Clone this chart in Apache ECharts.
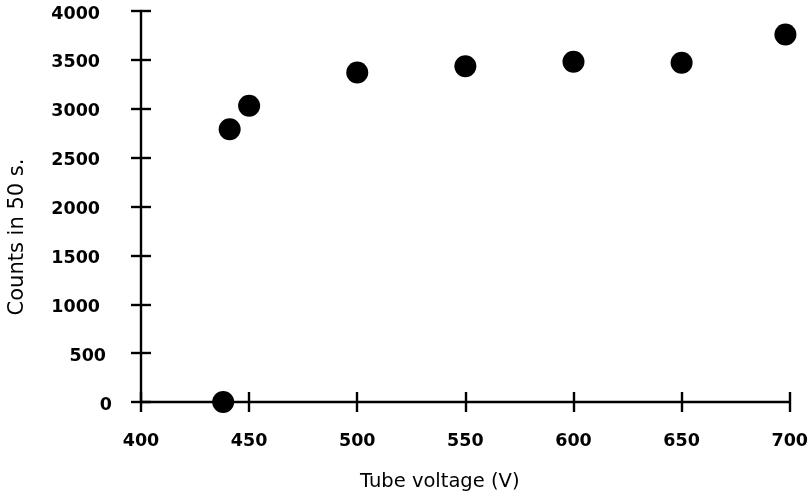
<!DOCTYPE html>
<html>
<head>
<meta charset="utf-8">
<script src="https://cdn.jsdelivr.net/npm/echarts@6/dist/echarts.min.js"></script>
<style>html,body{margin:0;padding:0;background:#fff}#c{width:811px;height:499px}</style>
</head>
<body>
<div id="c"></div>
<script>
var voltage = [438, 441, 450, 500, 550, 600, 650, 698];
var counts = [0, 2790, 3030, 3370, 3435, 3480, 3470, 3760];
var xTitle = 'Tube voltage (V)';
var yTitle = 'Counts in 50 s.';

var chart = echarts.init(document.getElementById('c'));
var pts = voltage.map(function (v, i) { return [v, counts[i]]; });
var lineStyle = { color: '#000', width: 2.4 };
var font = 'DejaVu Sans';

chart.setOption({
  animation: false,
  backgroundColor: '#fff',
  grid: { left: 141, right: 17, top: 11, bottom: 97 },
  xAxis: [{
    type: 'value', min: 400, max: 700, interval: 50,
    axisLine: { show: true, lineStyle: lineStyle },
    axisTick: { show: true, length: 10, lineStyle: lineStyle },
    splitLine: { show: false },
    axisLabel: { margin: 30, color: '#000', fontFamily: font, fontWeight: 'bold', fontSize: 17.5 }
  }, {
    type: 'value', min: 400, max: 700, interval: 50, position: 'bottom',
    axisLine: { show: false },
    axisTick: { show: true, inside: true, length: 10, lineStyle: lineStyle },
    splitLine: { show: false },
    axisLabel: { show: false }
  }],
  yAxis: [{
    type: 'value', min: 0, max: 4000, interval: 500,
    axisLine: { show: true, lineStyle: lineStyle },
    axisTick: { show: true, length: 10, lineStyle: lineStyle },
    splitLine: { show: false },
    axisLabel: {
      margin: 29, color: '#000', fontFamily: font, fontWeight: 'bold', fontSize: 17.5,
      formatter: function (v) {
        var s = String(v);
        return s.length >= 4 ? '{a|' + s + '}' : (s.length === 3 ? '{b|' + s + '}' : '{c|' + s + '}');
      },
      rich: {
        a: { padding: [6, 12, 0, 0], fontFamily: font, fontWeight: 'bold', fontSize: 17.5, color: '#000' },
        b: { padding: [6, 6, 0, 0], fontFamily: font, fontWeight: 'bold', fontSize: 17.5, color: '#000' },
        c: { padding: [6, 0, 0, 0], fontFamily: font, fontWeight: 'bold', fontSize: 17.5, color: '#000' }
      }
    }
  }, {
    type: 'value', min: 0, max: 4000, interval: 500, position: 'left',
    axisLine: { show: false },
    axisTick: { show: true, inside: true, length: 10, lineStyle: lineStyle },
    splitLine: { show: false },
    axisLabel: { show: false }
  }],
  graphic: [{
    type: 'text', left: 360, top: 472,
    style: { text: xTitle, fill: '#000', font: '19.5px "DejaVu Sans"' }
  }, {
    type: 'text', x: 18, y: 237, rotation: Math.PI / 2,
    style: { text: yTitle, fill: '#000', font: '21px "DejaVu Sans"', textAlign: 'center', textVerticalAlign: 'middle' }
  }],
  series: [{
    type: 'scatter', xAxisIndex: 0, yAxisIndex: 0, clip: false,
    symbol: 'circle', symbolSize: 22,
    itemStyle: { color: '#000', opacity: 1 },
    data: pts
  }]
});
</script>
</body>
</html>
